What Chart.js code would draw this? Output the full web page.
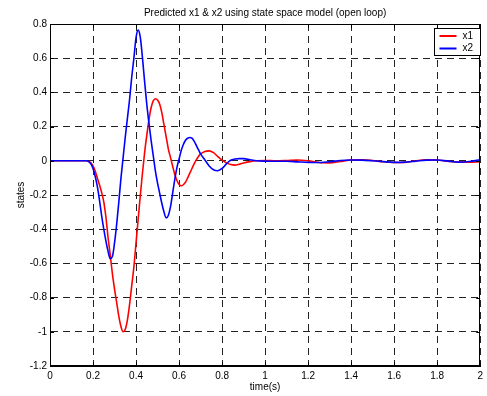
<!DOCTYPE html>
<html>
<head>
<meta charset="utf-8">
<title>Predicted x1 & x2</title>
<script src="https://cdn.jsdelivr.net/npm/chart.js@4/dist/chart.umd.min.js"></script>
<style>
    html, body { margin: 0; padding: 0; background: #fff; }
    #wrap { width: 487px; height: 396px; position: relative; }
</style>
</head>
<body>
<div id="wrap"><canvas id="statesChart"></canvas></div>
<script>
// time axis (s), shared by both states
const timeS = [0, 0.1, 0.15, 0.17,
    0.18, 0.19, 0.20, 0.21, 0.22, 0.23, 0.24, 0.25, 0.26, 0.27, 0.28, 0.29,
    0.30, 0.31, 0.32, 0.33, 0.34, 0.35, 0.36, 0.37, 0.38, 0.39,
    0.40, 0.41, 0.42, 0.43, 0.44, 0.45, 0.46, 0.47, 0.48, 0.49,
    0.50, 0.51, 0.52, 0.53, 0.54, 0.55, 0.56, 0.57, 0.58, 0.59,
    0.60, 0.61, 0.62, 0.63, 0.64, 0.65, 0.66, 0.67, 0.68, 0.69, 0.70,
    0.72, 0.74, 0.76, 0.78, 0.80, 0.82, 0.84, 0.86, 0.88, 0.90, 0.93, 0.96,
    1.00, 1.05, 1.10, 1.15, 1.20, 1.25, 1.30, 1.35, 1.40, 1.45, 1.50,
    1.55, 1.60, 1.65, 1.70, 1.75, 1.80, 1.85, 1.90, 1.95, 2.00];

const x1 = [0, 0, 0, 0,
    -0.004, -0.012, -0.03, -0.06, -0.10, -0.14, -0.185, -0.24, -0.33, -0.45, -0.55, -0.66,
    -0.75, -0.83, -0.91, -0.97, -1.0, -0.985, -0.93, -0.84, -0.73, -0.62,
    -0.48, -0.34, -0.20, -0.07, 0.05, 0.15, 0.24, 0.31, 0.35, 0.363,
    0.355, 0.33, 0.28, 0.21, 0.14, 0.07, 0.02, -0.03, -0.08, -0.115,
    -0.138, -0.146, -0.14, -0.125, -0.10, -0.072, -0.045, -0.018, 0.005, 0.025, 0.04,
    0.055, 0.058, 0.048, 0.025, 0.004, -0.012, -0.022, -0.025, -0.02, -0.013, -0.005, 0.0,
    0.002, 0.0, 0.002, 0.005, 0.0, -0.01, -0.012, -0.004, 0.005, 0.006,
    0.002, -0.006, -0.01, -0.009, 0.0, 0.006, 0.005, -0.003, -0.008, -0.008, -0.005];

const x2 = [0, 0, 0, 0,
    -0.005, -0.018, -0.045, -0.09, -0.15, -0.23, -0.32, -0.40, -0.47, -0.53, -0.572, -0.56,
    -0.48, -0.37, -0.24, -0.10, 0.02, 0.14, 0.25, 0.36, 0.49, 0.60,
    0.72, 0.764, 0.72, 0.60, 0.46, 0.33, 0.22, 0.12, 0.03, -0.06,
    -0.13, -0.19, -0.25, -0.30, -0.334, -0.32, -0.27, -0.19, -0.11, -0.04,
    0.01, 0.06, 0.095, 0.12, 0.132, 0.136, 0.132, 0.115, 0.09, 0.065, 0.04,
    0.005, -0.03, -0.052, -0.058, -0.045, -0.018, 0.003, 0.01, 0.013, 0.013, 0.006, 0.0,
    -0.002, -0.003, -0.003, -0.006, -0.009, -0.01, -0.006, 0.002, 0.005, 0.004,
    0.0, -0.005, -0.009, -0.008, -0.002, 0.004, 0.005, -0.002, -0.008, -0.004, 0.006];

const seriesNames = ['x1', 'x2'];
const seriesColors = ['#ff0000', '#0000ff'];

const FONT = 'Liberation Sans, Arial, sans-serif';

function fmt(v) {
    return String(Number(v.toFixed(1)));
}

// box round the plot, inner ticks and the legend in the top right corner
const matlabBox = {
    id: 'matlabBox',
    afterDatasetsDraw(chart) {
        const { ctx, chartArea: a, scales } = chart;
        ctx.save();
        ctx.strokeStyle = '#000';
        ctx.lineWidth = 1;
        ctx.setLineDash([]);
        ctx.beginPath();
        scales.x.ticks.forEach(t => {
            const px = Math.round(scales.x.getPixelForValue(t.value)) + 0.5;
            ctx.moveTo(px, a.bottom); ctx.lineTo(px, a.bottom - 4);
            ctx.moveTo(px, a.top); ctx.lineTo(px, a.top + 4);
        });
        scales.y.ticks.forEach(t => {
            const py = Math.round(scales.y.getPixelForValue(t.value)) + 0.5;
            ctx.moveTo(a.left, py); ctx.lineTo(a.left + 4, py);
            ctx.moveTo(a.right, py); ctx.lineTo(a.right - 4, py);
        });
        ctx.stroke();
        ctx.strokeRect(Math.round(a.left) + 0.5, Math.round(a.top) + 0.5,
            Math.round(a.right - a.left) - 1, Math.round(a.bottom - a.top) - 1);

        // legend
        const lx = 434.5, ly = 28.5, lw = 46, lh = 27;
        ctx.fillStyle = '#fff';
        ctx.fillRect(lx, ly, lw, lh);
        ctx.strokeRect(lx, ly, lw, lh);
        ctx.font = '10px ' + FONT;
        ctx.textBaseline = 'middle';
        ctx.textAlign = 'left';
        chart.data.datasets.forEach((ds, i) => {
            const y = ly + 7.5 + i * 12.5;
            ctx.strokeStyle = ds.borderColor;
            ctx.lineWidth = 2;
            ctx.beginPath();
            ctx.moveTo(lx + 5, y); ctx.lineTo(lx + 22, y);
            ctx.stroke();
            ctx.fillStyle = '#000';
            ctx.fillText(ds.label, lx + 28, y);
        });
        ctx.restore();
    }
};

const ctx = document.getElementById('statesChart').getContext('2d');
new Chart(ctx, {
    type: 'line',
    data: {
        datasets: [x1, x2].map((vals, i) => ({
            label: seriesNames[i],
            data: vals.map((v, k) => ({ x: timeS[k], y: v })),
            borderColor: seriesColors[i],
            borderWidth: 1.6,
            pointRadius: 0,
            cubicInterpolationMode: 'monotone',
            fill: false,
            order: 1 - i // x2 drawn on top like in the original
        }))
    },
    options: {
        responsive: true,
        maintainAspectRatio: false,
        animation: false,
        layout: { padding: { left: 0, right: 3, top: 0, bottom: 0 } },
        plugins: {
            legend: { display: false },
            tooltip: { enabled: false },
            title: {
                display: true,
                fullSize: false,
                text: 'Predicted x1 & x2 using state space model (open loop)',
                color: '#000',
                font: { family: FONT, size: 10, weight: 'normal' },
                padding: { top: 7, bottom: 5 }
            }
        },
        scales: {
            x: {
                type: 'linear',
                min: 0,
                max: 2,
                ticks: {
                    stepSize: 0.2,
                    color: '#000',
                    padding: 4,
                    maxRotation: 0,
                    font: { family: FONT, size: 10 },
                    callback: v => fmt(v)
                },
                grid: { color: '#222', lineWidth: 1, drawTicks: false },
                border: { display: true, color: '#000', width: 1, dash: [7, 5] },
                title: {
                    display: true,
                    text: 'time(s)',
                    color: '#000',
                    font: { family: FONT, size: 10 },
                    padding: { top: 0, bottom: 3 }
                },
                afterFit: s => { s.height = 30; }
            },
            y: {
                type: 'linear',
                min: -1.2,
                max: 0.8,
                ticks: {
                    stepSize: 0.2,
                    color: '#000',
                    padding: 3,
                    font: { family: FONT, size: 10 },
                    callback: v => fmt(v)
                },
                grid: { color: '#222', lineWidth: 1, drawTicks: false },
                border: { display: true, color: '#000', width: 1, dash: [7, 5] },
                title: {
                    display: true,
                    text: 'states',
                    color: '#000',
                    font: { family: FONT, size: 10 },
                    padding: { top: 15, bottom: 0 }
                },
                afterFit: s => { s.width = 50; }
            }
        }
    },
    plugins: [matlabBox]
});
</script>
</body>
</html>
